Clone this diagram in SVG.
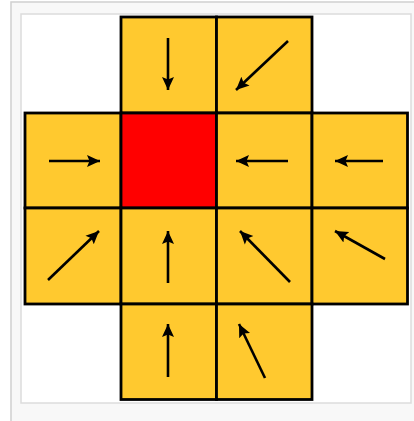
<svg xmlns="http://www.w3.org/2000/svg" width="414" height="421" viewBox="0 0 414 421">
<style>
.cell{fill:#FFC92F;stroke:#000;stroke-width:2.8}
.red{fill:#FF0000;stroke:#000;stroke-width:2.8}
.arr{stroke:#000;stroke-width:2.6;fill:none;marker-end:url(#ah)}
</style>
<defs>
<marker id="ah" markerUnits="userSpaceOnUse" markerWidth="15" markerHeight="14" refX="13" refY="7" orient="auto">
<path d="M0,1 L13,7 L0,13 L2.5,7 z" fill="#000"/>
</marker>
</defs>
<rect x="11" y="2" width="410" height="425" fill="#f8f8f8" stroke="#d0d0d0" stroke-width="1.5"/>
<rect x="21" y="14" width="390" height="389" fill="#fff" stroke="#dcdcdc" stroke-width="1.5"/>
<g id="c10"><rect class="cell" x="121" y="17" width="95.5" height="96"/></g>
<g id="c20"><rect class="cell" x="216.5" y="17" width="95.5" height="96"/></g>
<g id="c01"><rect class="cell" x="25" y="113" width="96" height="95"/></g>
<g id="c11"><rect class="red" x="121" y="113" width="95.5" height="95"/></g>
<g id="c21"><rect class="cell" x="216.5" y="113" width="95.5" height="95"/></g>
<g id="c31"><rect class="cell" x="312" y="113" width="95.5" height="95"/></g>
<g id="c02"><rect class="cell" x="25" y="208" width="96" height="96"/></g>
<g id="c12"><rect class="cell" x="121" y="208" width="95.5" height="96"/></g>
<g id="c22"><rect class="cell" x="216.5" y="208" width="95.5" height="96"/></g>
<g id="c32"><rect class="cell" x="312" y="208" width="95.5" height="96"/></g>
<g id="c13"><rect class="cell" x="121" y="304" width="95.5" height="95.5"/></g>
<g id="c23"><rect class="cell" x="216.5" y="304" width="95.5" height="95.5"/></g>
<g id="connectors">
<line class="arr" x1="168" y1="38" x2="168" y2="90"/>
<line class="arr" x1="288" y1="41" x2="236" y2="90"/>
<line class="arr" x1="49" y1="161" x2="100" y2="161"/>
<line class="arr" x1="288" y1="161" x2="236" y2="161"/>
<line class="arr" x1="383" y1="161" x2="335" y2="161"/>
<line class="arr" x1="48" y1="280" x2="99" y2="231"/>
<line class="arr" x1="168" y1="283" x2="168" y2="231"/>
<line class="arr" x1="290" y1="282" x2="240" y2="231"/>
<line class="arr" x1="385" y1="259" x2="335" y2="231"/>
<line class="arr" x1="168" y1="377" x2="168" y2="324"/>
<line class="arr" x1="265" y1="378" x2="239" y2="324"/>
</g>
</svg>
